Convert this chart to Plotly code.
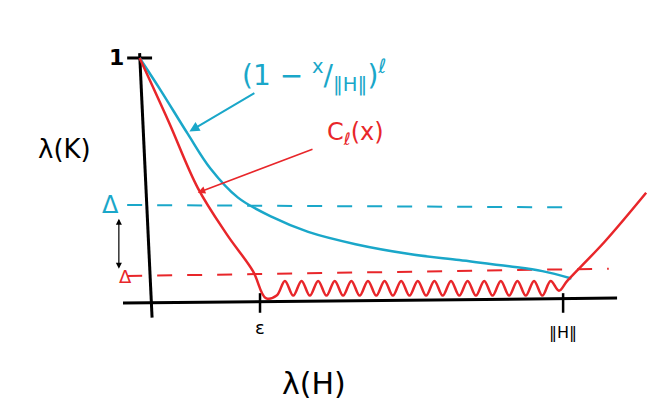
import plotly.graph_objects as go

# sketch coordinates: x in units of ||H|| (0 at y-axis, 1 at ||H||), y in units of lambda (1 at top tick)
blue_x = [-0.02, 0.03, 0.096, 0.15, 0.217, 0.3, 0.386, 0.5, 0.63, 0.75, 0.87, 0.95, 1.02]
blue_y = [1.0, 0.87, 0.69, 0.55, 0.43, 0.35, 0.29, 0.24, 0.20, 0.175, 0.15, 0.13, 0.10]

red_x = [-0.02, 0.05, 0.12, 0.19, 0.253, 0.284, 0.31, 0.33, 0.35, 0.37, 0.39, 0.41, 0.43, 0.45, 0.47,
         0.49, 0.51, 0.53, 0.55, 0.57, 0.59, 0.61, 0.63, 0.65, 0.67, 0.69, 0.71, 0.73, 0.75, 0.77,
         0.79, 0.81, 0.83, 0.85, 0.87, 0.89, 0.91, 0.93, 0.95, 0.97, 0.99, 1.01, 1.1, 1.2]
red_y = [1.0, 0.74, 0.47, 0.28, 0.13, 0.02, 0.03, 0.09, 0.03, 0.09, 0.03, 0.09, 0.03, 0.09, 0.03,
         0.09, 0.03, 0.09, 0.03, 0.09, 0.03, 0.09, 0.03, 0.09, 0.03, 0.09, 0.03, 0.09, 0.03, 0.09,
         0.03, 0.09, 0.03, 0.09, 0.03, 0.09, 0.03, 0.09, 0.03, 0.09, 0.05, 0.09, 0.25, 0.45]

delta_blue = 0.40
delta_red = 0.11
x_ticks = [0.27, 1.0]
x_tick_labels = ["ε", "‖H‖"]

BLUE = "#1aa7c9"
RED = "#e8262a"
fig = go.Figure()
fig.add_trace(go.Scatter(x=[-0.06, 1.13], y=[0.0, 0.02], mode="lines", line=dict(color="black", width=3)))
fig.add_trace(go.Scatter(x=[-0.02, 0.01], y=[1.02, -0.06], mode="lines", line=dict(color="black", width=3)))
fig.add_trace(go.Scatter(x=[-0.05, 0.01], y=[1.0, 1.0], mode="lines", line=dict(color="black", width=3)))
for t in x_ticks:
    fig.add_trace(go.Scatter(x=[t, t], y=[-0.04, 0.04], mode="lines", line=dict(color="black", width=2.5)))
fig.add_trace(go.Scatter(x=[-0.05, 1.03], y=[delta_blue, delta_blue - 0.01], mode="lines",
                         line=dict(color=BLUE, width=2, dash="longdash")))
fig.add_trace(go.Scatter(x=[-0.05, 1.11], y=[delta_red, delta_red + 0.03], mode="lines",
                         line=dict(color=RED, width=2, dash="longdash")))
fig.add_trace(go.Scatter(x=blue_x, y=blue_y, mode="lines", line=dict(color=BLUE, width=2.5, shape="spline")))
fig.add_trace(go.Scatter(x=red_x, y=red_y, mode="lines", line=dict(color=RED, width=2.5, shape="spline")))

F = "DejaVu Sans"
ann = [
    dict(x=-0.075, y=1.0, text="<b>1</b>", font=dict(size=22, color="black")),
    dict(x=-0.09, y=delta_blue, text="Δ", font=dict(size=24, color=BLUE)),
    dict(x=-0.055, y=delta_red, text="Δ", font=dict(size=18, color=RED)),
    dict(x=-0.2, y=0.63, text="λ(K)", font=dict(size=26, color="black")),
    dict(x=0.4, y=-0.33, text="λ(H)", font=dict(size=30, color="black")),
    dict(x=x_ticks[0], y=-0.1, text=x_tick_labels[0], font=dict(size=18, color="black")),
    dict(x=x_ticks[1], y=-0.12, text=x_tick_labels[1], font=dict(size=16, color="black")),
]
for a in ann:
    fig.add_annotation(showarrow=False, font_family=F, **a)
fig.add_annotation(x=0.1, y=0.7, ax=0.26, ay=0.86, axref="x", ayref="y", showarrow=True,
                   arrowhead=2, arrowcolor=BLUE, arrowwidth=2, text="")
fig.add_annotation(x=0.4, y=0.93, showarrow=False, text="(1 − <sup>x</sup>/<sub>‖H‖</sub>)<sup>ℓ</sup>",
                   font=dict(size=28, color=BLUE, family=F))
fig.add_annotation(x=0.12, y=0.45, ax=0.4, ay=0.63, axref="x", ayref="y", showarrow=True,
                   arrowhead=2, arrowcolor=RED, arrowwidth=1.5, text="")
fig.add_annotation(x=0.5, y=0.69, showarrow=False, text="C<sub>ℓ</sub>(x)",
                   font=dict(size=24, color=RED, family=F))
fig.add_annotation(x=-0.07, y=0.14, ax=-0.07, ay=0.35, axref="x", ayref="y", showarrow=True,
                   arrowhead=2, startarrowhead=2, arrowside="end+start", arrowcolor="black",
                   arrowwidth=1.2, text="")

fig.update_layout(width=656, height=416, margin=dict(l=0, r=0, t=0, b=0), showlegend=False,
                  plot_bgcolor="white", paper_bgcolor="white",
                  xaxis=dict(range=[-0.337, 1.243], visible=False),
                  yaxis=dict(range=[-0.494, 1.204], visible=False))
fig.write_html("out.html")
